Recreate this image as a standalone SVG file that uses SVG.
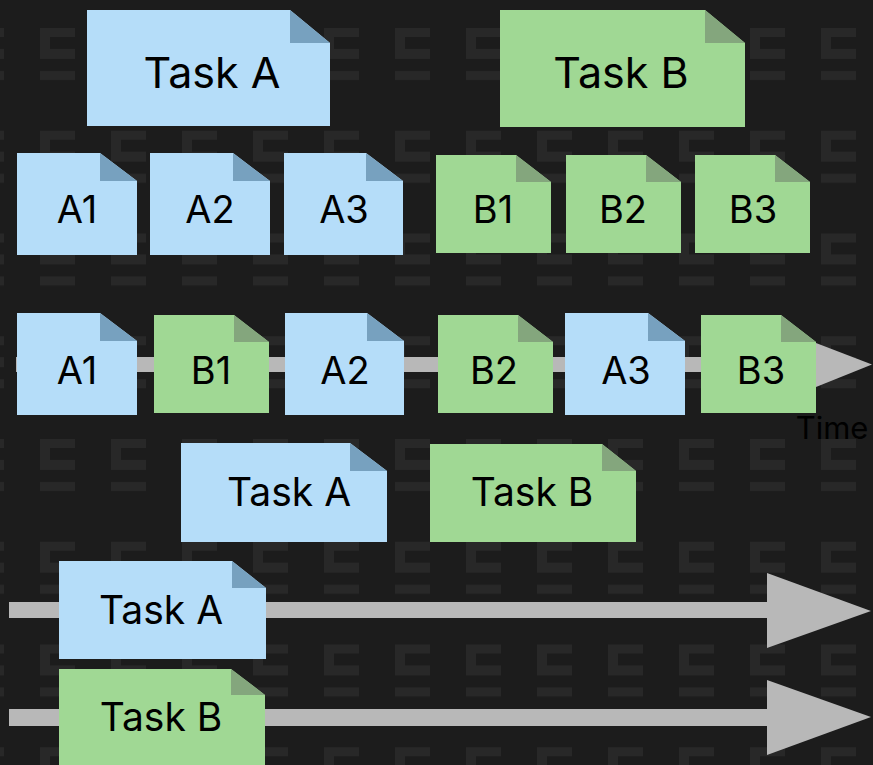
<svg xmlns="http://www.w3.org/2000/svg" width="873" height="765" viewBox="0 0 873 765">
<style>
.blue{fill:#b5ddf9}
.bfold{fill:#77a1bf}
.green{fill:#a0d894}
.gfold{fill:#84a67d}
.lbl{font-family:Inter,"Noto Sans","Liberation Sans",sans-serif;fill:#000;text-anchor:middle}
.big{font-size:43px}
.mid{font-size:39px}
.sm{font-size:38px}
.bar{fill:#b8b8b8}
</style>
<defs>
<pattern id="bgp" patternUnits="userSpaceOnUse" x="40" y="28" width="71" height="102.75">
<path d="M0,0H35V9H10V21H35V31H0Z" fill="#282828"/>
<rect x="0" y="43" width="35" height="9" fill="#282828"/>
</pattern>
</defs>
<rect width="873" height="765" fill="#1c1c1c"/>
<rect width="873" height="765" fill="url(#bgp)"/>

<g id="connectors">
<rect class="bar" x="16" y="357" width="800" height="15"/>
<polygon class="bar" points="816,343 872,364.5 816,387"/>
<rect class="bar" x="9" y="602" width="760" height="16"/>
<polygon class="bar" points="767,573 871,611 767,648"/>
<rect class="bar" x="9" y="709" width="760" height="17"/>
<polygon class="bar" points="767,680 871,717 767,755"/>
</g>

<g id="taskA1">
<path class="blue" d="M87,10H290L330,43V126H87Z"/>
<path class="bfold" d="M290,10L330,43H290Z"/>
<text class="lbl big" x="212" y="88">Task A</text>
</g>
<g id="taskB1">
<path class="green" d="M500,10H705L745,43V127H500Z"/>
<path class="gfold" d="M705,10L745,43H705Z"/>
<text class="lbl big" x="621" y="88">Task B</text>
</g>

<g id="r2A1">
<path class="blue" d="M17,153H100L137,181V255H17Z"/>
<path class="bfold" d="M100,153L137,181H100Z"/>
<text class="lbl sm" x="77" y="223">A1</text>
</g>
<g id="r2A2">
<path class="blue" d="M150,153H233L270,181V255H150Z"/>
<path class="bfold" d="M233,153L270,181H233Z"/>
<text class="lbl sm" x="210" y="223">A2</text>
</g>
<g id="r2A3">
<path class="blue" d="M284,153H366L403,181V255H284Z"/>
<path class="bfold" d="M366,153L403,181H366Z"/>
<text class="lbl sm" x="344" y="223">A3</text>
</g>
<g id="r2B1">
<path class="green" d="M436,155H516L551,182V253H436Z"/>
<path class="gfold" d="M516,155L551,182H516Z"/>
<text class="lbl sm" x="493" y="223">B1</text>
</g>
<g id="r2B2">
<path class="green" d="M566,155H646L681,182V253H566Z"/>
<path class="gfold" d="M646,155L681,182H646Z"/>
<text class="lbl sm" x="623" y="223">B2</text>
</g>
<g id="r2B3">
<path class="green" d="M695,155H775L810,182V253H695Z"/>
<path class="gfold" d="M775,155L810,182H775Z"/>
<text class="lbl sm" x="753" y="223">B3</text>
</g>

<g id="r3A1">
<path class="blue" d="M17,313H100L137,341V415H17Z"/>
<path class="bfold" d="M100,313L137,341H100Z"/>
<text class="lbl sm" x="77" y="384">A1</text>
</g>
<g id="r3B1">
<path class="green" d="M154,315H234L269,342V413H154Z"/>
<path class="gfold" d="M234,315L269,342H234Z"/>
<text class="lbl sm" x="211" y="384">B1</text>
</g>
<g id="r3A2">
<path class="blue" d="M285,313H367L404,341V415H285Z"/>
<path class="bfold" d="M367,313L404,341H367Z"/>
<text class="lbl sm" x="345" y="384">A2</text>
</g>
<g id="r3B2">
<path class="green" d="M438,315H518L553,342V413H438Z"/>
<path class="gfold" d="M518,315L553,342H518Z"/>
<text class="lbl sm" x="494" y="384">B2</text>
</g>
<g id="r3A3">
<path class="blue" d="M565,313H648L685,341V415H565Z"/>
<path class="bfold" d="M648,313L685,341H648Z"/>
<text class="lbl sm" x="626" y="384">A3</text>
</g>
<g id="r3B3">
<path class="green" d="M701,315H781L816,342V413H701Z"/>
<path class="gfold" d="M781,315L816,342H781Z"/>
<text class="lbl sm" x="761" y="384">B3</text>
</g>
<text class="lbl" style="font-size:31px" x="832" y="439">Time</text>

<g id="r4A">
<path class="blue" d="M181,443H350L387,471V542H181Z"/>
<path class="bfold" d="M350,443L387,471H350Z"/>
<text class="lbl mid" x="289" y="506">Task A</text>
</g>
<g id="r4B">
<path class="green" d="M430,444H602L636,471V542H430Z"/>
<path class="gfold" d="M602,444L636,471H602Z"/>
<text class="lbl mid" x="532" y="506">Task B</text>
</g>

<g id="r5A">
<path class="blue" d="M59,561H232L266,588V659H59Z"/>
<path class="bfold" d="M232,561L266,588H232Z"/>
<text class="lbl mid" x="161" y="624">Task A</text>
</g>
<g id="r5B">
<path class="green" d="M59,669H231L265,695V765H59Z"/>
<path class="gfold" d="M231,669L265,695H231Z"/>
<text class="lbl mid" x="161" y="731">Task B</text>
</g>
</svg>
